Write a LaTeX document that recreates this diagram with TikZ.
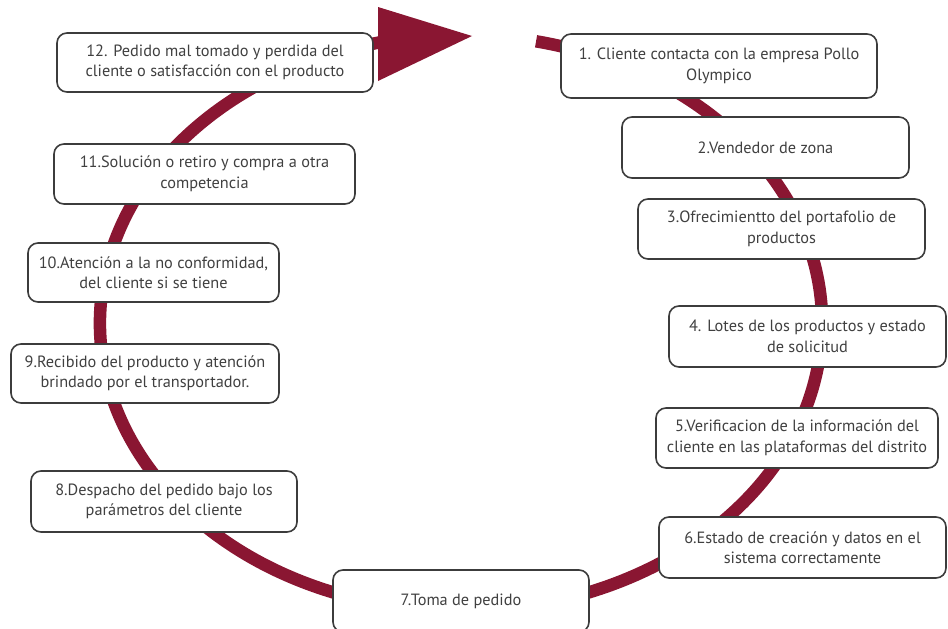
\documentclass[tikz,border=0pt]{standalone}
\usepackage{fontspec}
\setmainfont{PT Sans}
\definecolor{wine}{RGB}{138,22,50}
\definecolor{edge}{RGB}{60,60,60}
\definecolor{ink}{RGB}{64,64,64}
\begin{document}
\begin{tikzpicture}[x=1pt,y=-1pt,
  stepbox/.style={draw=edge, line width=1.6pt, fill=white, rounded corners=10pt,
    align=center, text=ink, font=\fontsize{16.3}{20.5}\selectfont, inner sep=2pt}]
\useasboundingbox (0,0) rectangle (948,629);
\clip (0,0) rectangle (948,629);

% cycle arc (y axis points down, so rising angles turn clockwise on the page)
\draw[wine, line width=12.5pt]
  (461,323) ++(-78:361 and 288)
  arc[start angle=-78, end angle=259, x radius=361, y radius=288];
\fill[wine] (378,7) -- (472,36) -- (378,81) -- cycle;

% process steps
\node[stepbox, minimum width=316pt, minimum height=59pt] (s12) at (215,62.5)
  {12. Pedido mal tomado y perdida del\\cliente o satisfacción con el producto};
\node[stepbox, minimum width=316pt, minimum height=64pt] (s1) at (719,66)
  {1. Cliente contacta con la empresa Pollo\\Olympico};
\node[stepbox, minimum width=287pt, minimum height=61pt] (s2) at (765.5,147.5)
  {2.Vendedor de zona};
\node[stepbox, minimum width=287pt, minimum height=60pt] (s3) at (781.5,229)
  {3.Ofrecimientto del portafolio de\\productos};
\node[stepbox, minimum width=277pt, minimum height=61pt] (s4) at (807.5,336.5)
  {4. Lotes de los productos y estado\\de solicitud};
\node[stepbox, minimum width=282pt, minimum height=60pt] (s5) at (797,438)
  {5.Verificacion de la información del\\cliente en las plataformas del distrito};
\node[stepbox, minimum width=287pt, minimum height=61pt] (s6) at (802.5,547.5)
  {6.Estado de creación y datos en el\\sistema correctamente};
\node[stepbox, minimum width=256pt, minimum height=62pt] (s7) at (461,601)
  {7.Toma de pedido};
\node[stepbox, minimum width=266pt, minimum height=61pt] (s8) at (164,501.5)
  {8.Despacho del pedido bajo los\\parámetros del cliente};
\node[stepbox, minimum width=268pt, minimum height=59pt] (s9) at (145,373.5)
  {9.Recibido del producto y atención\\brindado por el transportador.};
\node[stepbox, minimum width=251pt, minimum height=59pt] (s10) at (153.5,272.5)
  {10.Atención a la no conformidad,\\del cliente si se tiene};
\node[stepbox, minimum width=301pt, minimum height=60pt] (s11) at (204.5,174)
  {11.Solución o retiro y compra a otra\\competencia};
\end{tikzpicture}
\end{document}
